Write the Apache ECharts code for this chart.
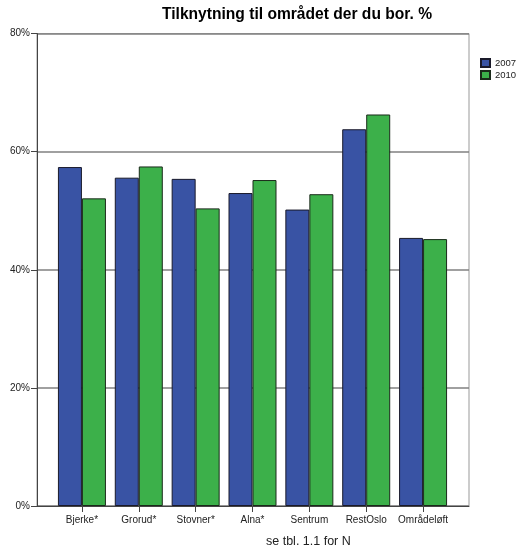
<!DOCTYPE html>
<html>
<head>
<meta charset="utf-8">
<script src="https://cdn.jsdelivr.net/npm/echarts@6/dist/echarts.min.js"></script>
<style>html,body{margin:0;padding:0;background:#fff;}#c{width:517px;height:549px;}</style>
</head>
<body>
<div id="c"></div>
<script>
var categories = ['Bjerke*', 'Grorud*', 'Stovner*', 'Alna*', 'Sentrum', 'RestOslo', 'Områdeløft'];
var values2007 = [57.4, 55.6, 55.4, 53.0, 50.2, 63.8, 45.4];
var values2010 = [52.1, 57.5, 50.4, 55.2, 52.8, 66.3, 45.2];
var yTicks = [0, 20, 40, 60, 80];
var seriesNames = ['2007', '2010'];

var FONT = '"Liberation Sans", Arial, sans-serif';
var chart = echarts.init(document.getElementById('c'), null, {renderer: 'canvas'});
chart.setOption({
  animation: false,
  backgroundColor: '#fff',
  title: [
    {text: 'Tilknytning til området der du bor. %', left: 157, top: 2,
     textStyle: {fontFamily: FONT, fontSize: 15.6, fontWeight: 'bold', color: '#000'}},
    {text: 'se tbl. 1.1 for N', left: 261, top: 530,
     textStyle: {fontFamily: FONT, fontSize: 12.5, fontWeight: 'normal', color: '#222'}}
  ],
  legend: {
    data: seriesNames, orient: 'vertical', left: 480, top: 58, padding: 0,
    itemWidth: 9, itemHeight: 8, itemGap: 2,
    textStyle: {fontFamily: FONT, fontSize: 9.5, color: '#222'},
    icon: 'rect'
  },
  grid: [
    {left: 37, top: 33.6, width: 432, height: 472.4, show: true, borderColor: '#999', borderWidth: 1, backgroundColor: 'transparent'},
    {left: 53.5, top: 33.6, width: 398, height: 472.4}
  ],
  xAxis: [
    {gridIndex: 0, type: 'value', min: 0, max: 1, axisLine: {show: true, lineStyle: {color: '#444', width: 1}},
     axisTick: {show: false}, axisLabel: {show: false}, splitLine: {show: false}},
    {gridIndex: 1, type: 'category', data: categories,
     axisLine: {show: false}, axisTick: {show: true, alignWithLabel: true, length: 6, lineStyle: {color: '#444'}},
     axisLabel: {fontFamily: FONT, fontSize: 10, color: '#222', margin: 9, interval: 0}}
  ],
  yAxis: [
    {gridIndex: 0, type: 'value', min: yTicks[0], max: yTicks[yTicks.length - 1], interval: 20,
     axisLine: {show: true, lineStyle: {color: '#444'}},
     axisTick: {show: true, length: 6, lineStyle: {color: '#444'}},
     axisLabel: {fontFamily: FONT, fontSize: 10, color: '#222', margin: 7, formatter: '{value}%'},
     splitLine: {show: true, lineStyle: {color: '#808080', width: 1.5}}},
    {gridIndex: 1, type: 'value', min: 0, max: 80, show: false, splitLine: {show: false}}
  ],
  series: [
    {name: seriesNames[0], type: 'bar', xAxisIndex: 1, yAxisIndex: 1, data: values2007,
     barWidth: 24, barGap: '0%',
     itemStyle: {color: '#3953a4', borderColor: '#1a1a2a', borderWidth: 1}},
    {name: seriesNames[1], type: 'bar', xAxisIndex: 1, yAxisIndex: 1, data: values2010,
     barWidth: 24, barGap: '0%',
     itemStyle: {color: '#3cb04a', borderColor: '#1a2a1a', borderWidth: 1}}
  ]
});
</script>
</body>
</html>
